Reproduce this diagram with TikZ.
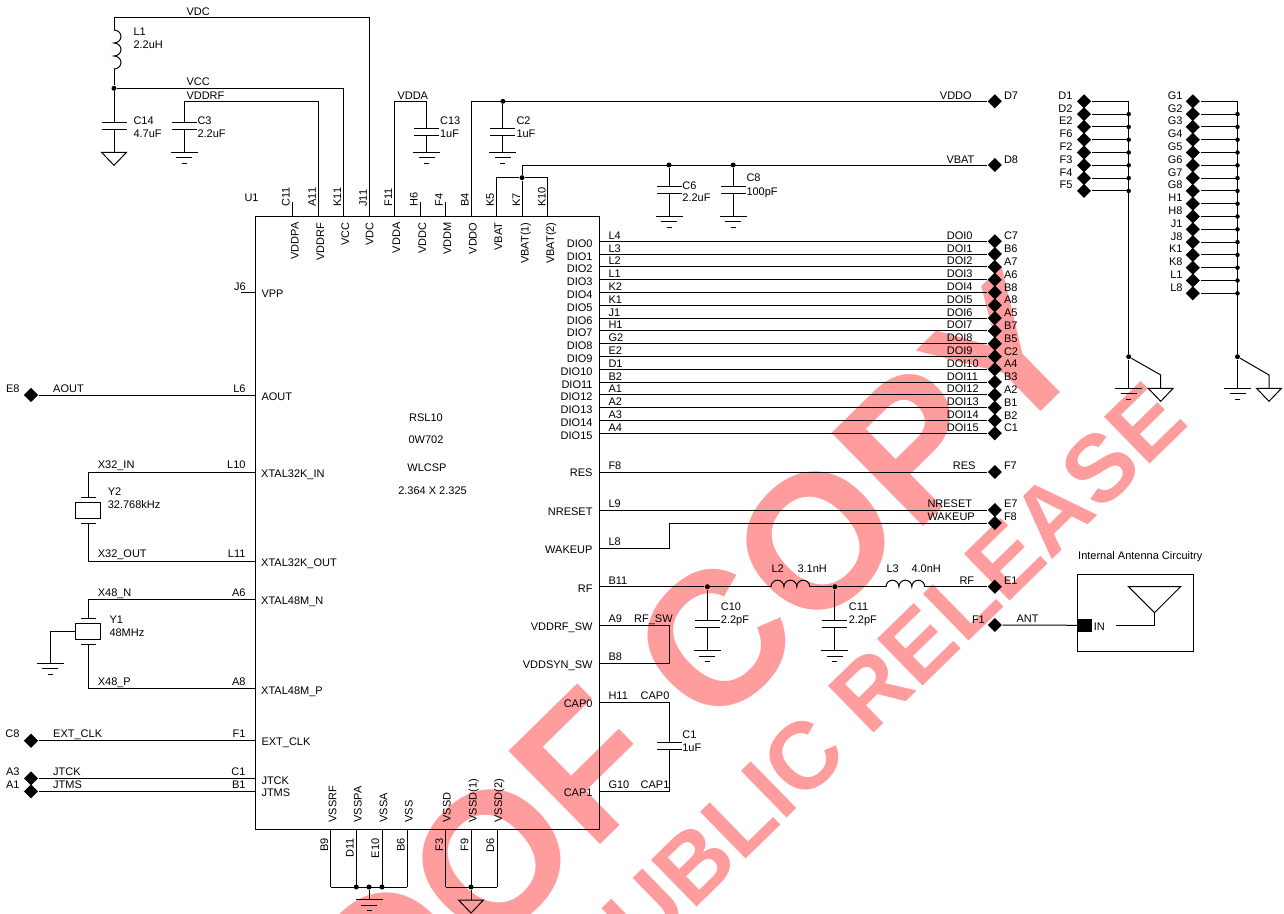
\documentclass[tikz,border=0pt]{standalone}
\usepackage{fontspec}
\setmainfont{Liberation Sans}
\usetikzlibrary{shapes.geometric}
\definecolor{stampred}{RGB}{255,156,158}
\tikzset{
  lbl/.style={anchor=west,inner sep=0pt,text height=8pt,text depth=0pt,font=\fontsize{11}{13}\selectfont},
  lblr/.style={lbl,anchor=east},
  lblc/.style={lbl,anchor=center},
  pinup/.style={lbl,rotate=90},
  pindn/.style={lbl,rotate=90,anchor=east},
  dotnode/.style={circle,fill=black,inner sep=0pt,minimum size=5pt},
  padnode/.style={diamond,fill=black,inner sep=0pt,minimum size=14.5pt},
  capnode/.style={inner sep=0pt,minimum width=24pt,minimum height=6pt,
    append after command={(\tikzlastnode.north west) edge (\tikzlastnode.north east)
      (\tikzlastnode.south west) edge (\tikzlastnode.south east)}},
  stamp/.style={text=stampred,inner sep=0pt,font=\bfseries\fontsize{#1}{#1}\selectfont},
  gndbars/.pic={
    \draw (-13.5,0)--(13.5,0);
    \draw (-8,5.5)--(8,5.5);
    \draw (-2.5,11)--(2.5,11);
  },
  gndtri/.pic={\draw (-12.5,0)--(12.5,0)--(0,13)--cycle;},
  coilh/.pic={
    \draw (0,0) arc[start angle=180,end angle=0,x radius=6.45pt,y radius=6.5pt]
      arc[start angle=180,end angle=0,x radius=6.45pt,y radius=6.5pt]
      arc[start angle=180,end angle=0,x radius=6.45pt,y radius=6.5pt];
  },
  coilv/.pic={
    \draw (0,0) arc[start angle=90,end angle=-90,x radius=7pt,y radius=6.5pt]
      arc[start angle=90,end angle=-90,x radius=7pt,y radius=6.5pt]
      arc[start angle=90,end angle=-90,x radius=7pt,y radius=6.5pt];
  },
}
\begin{document}
\begin{tikzpicture}[x=1pt,y=-1pt,line width=1pt]
  \useasboundingbox (0,0) rectangle (1284,913);
  \clip (0,0) rectangle (1284,913);
  % stamp behind the schematic
  \node[stamp=190,rotate=44.5] (stampa) at (598,755) {PROOF COPY};
  \node[stamp=95,rotate=44.3] (stampb) at (709,849) {NOT FOR PUBLIC RELEASE};
  % chip
  \node[draw,anchor=north west,inner sep=0pt,minimum width=344.3pt,minimum height=613.3pt] (chip) at (254.7,216) {};
  \node[lbl] (refU1) at (244,197) {U1};
  \node[lblc] (txta) at (426,417) {RSL10};
  \node[lblc] (txtb) at (426,439) {0W702};
  \node[lblc] (txtc) at (427,467) {WLCSP};
  \node[lblc] (txtd) at (432.5,490) {2.364 X 2.325};
  % top pins
  \foreach \n/\xa/\pin/\xb/\net in {a/285.7/C11/294.7/VDDPA,b/311.8/A11/320/VDDRF,c/337/K11/345/VCC,d/362.9/J11/369.4/VDC,
      e/388/F11/396/VDDA,f/413.5/H6/422/VDDC,g/438.8/F4/447/VDDM,h/464.5/B4/472.6/VDDO,
      i/489.8/K5/498/VBAT,j/516/K7/524.5/VBAT(1),k/541.6/K10/550/VBAT(2)}{
    \node[pinup] (tp\n) at (\xa,207) {\pin};
    \node[pindn] (tn\n) at (\xb,222) {\net};
  }
  \foreach \n/\xx in {a/292.6,f/420,g/445.7}{
    \coordinate (stub\n) at (\xx,216);
    \coordinate (stubend\n) at (\xx,202);
    \draw (stub\n)--(stubend\n);
  }
  % bottom pins
  \foreach \n/\xa/\pin/\xb/\net in {a/324/B9/332.3/VSSRF,b/349.7/D11/357.7/VSSPA,c/375/E10/383.3/VSSA,d/400.7/B6/408.7/VSS,
      e/439/F3/446.7/VSSD,f/464.3/F9/472.7/VSSD(1),g/490/D6/498/VSSD(2)}{
    \node[pindn] (bp\n) at (\xa,838) {\pin};
    \node[pinup] (bn\n) at (\xb,823) {\net};
  }
  \foreach \n/\xx in {a/330.7,b/356.3,c/382,d/407.3,e/445.7,f/471,g/497}{
    \coordinate (bot\n) at (\xx,829.3);
    \coordinate (bus\n) at (\xx,887);
    \draw (bot\n)--(bus\n);
  }
  \draw (busa)--(busd);
  \draw (buse)--(busg);
  \node[dotnode] (jbb) at (busb) {};
  \node[dotnode] (jbc) at (busc) {};
  \node[dotnode] (jbm) at (369,887) {};
  \node[dotnode] (jbf) at (busf) {};
  \coordinate (gbm) at (369,899.7);
  \coordinate (gbf) at (471,900);
  \draw (jbm)--(gbm);
  \draw (jbf)--(gbf);
  \pic at (gbm) {gndbars};
  \pic at (gbf) {gndtri};
  % VDC, VCC, VDDRF
  \coordinate (vdcpin) at (369.4,216);
  \coordinate (vdctop) at (114,17.3);
  \coordinate (coila) at (114,30);
  \coordinate (coilb) at (114,69);
  \draw (vdcpin) |- (vdctop)--(coila);
  \pic at (coila) {coilv};
  \node[dotnode] (jvcc) at (114,88.3) {};
  \draw (coilb)--(jvcc);
  \coordinate (vccpin) at (343.7,216);
  \draw (jvcc) -| (vccpin);
  \node[capnode] (C14) at (114,125.5) {};
  \coordinate (g14) at (114,152.3);
  \draw (jvcc)--(C14) (C14)--(g14);
  \pic at (g14) {gndtri};
  \coordinate (vrfpin) at (318.4,216);
  \coordinate (vrftop) at (184,101.3);
  \node[capnode] (C3) at (184,125.5) {};
  \coordinate (g3) at (184,152.3);
  \draw (vrfpin) |- (vrftop)--(C3) (C3)--(g3);
  \pic at (g3) {gndbars};
  \node[lbl] (nVDC) at (186,11) {VDC};
  \node[lbl] (nVCC) at (186,81.7) {VCC};
  \node[lbl] (nVRF) at (186,95) {VDDRF};
  \node[lbl] (rL1) at (133,31) {L1};
  \node[lbl] (vL1) at (133,44) {2.2uH};
  \node[lbl] (rC14) at (133,120.7) {C14};
  \node[lbl] (vC14) at (133,133) {4.7uF};
  \node[lbl] (rC3) at (197,120.7) {C3};
  \node[lbl] (vC3) at (197,133) {2.2uF};
  % VDDA
  \coordinate (vapin) at (394.7,216);
  \coordinate (vatop) at (426.5,101.3);
  \node[capnode] (C13) at (426.5,131.6) {};
  \coordinate (g13) at (426.5,152.3);
  \draw (vapin) |- (vatop)--(C13) (C13)--(g13);
  \pic at (g13) {gndbars};
  \node[lbl] (nVA) at (397,95) {VDDA};
  \node[lbl] (rC13) at (439.6,120.7) {C13};
  \node[lbl] (vC13) at (439.6,133) {1uF};
  % VDDO
  \coordinate (vopin) at (471,216);
  \node[padnode] (padD7) at (994.8,101.3) {};
  \draw (vopin) |- (padD7);
  \node[dotnode] (jvo) at (502.9,101.3) {};
  \node[capnode] (C2) at (502.9,131.6) {};
  \coordinate (g2) at (502.9,152.3);
  \draw (jvo)--(C2) (C2)--(g2);
  \pic at (g2) {gndbars};
  \node[lbl] (rC2) at (516,120.7) {C2};
  \node[lbl] (vC2) at (516,133) {1uF};
  \node[lbl] (nVO) at (939.4,95) {VDDO};
  \node[lbl] (pD7) at (1003.5,95) {D7};
  % VBAT
  \coordinate (vbpina) at (496.7,216);
  \coordinate (vbpinb) at (522,216);
  \coordinate (vbpinc) at (547.8,216);
  \node[dotnode] (jvb) at (522,177.7) {};
  \node[padnode] (padD8) at (994.8,165) {};
  \draw (vbpina) |- (jvb) -| (vbpinc);
  \draw (vbpinb)--(jvb);
  \draw (jvb) |- (padD8);
  \foreach \n/\xx/\rx/\yr/\yv/\val in {C6/669/681.9/185/197/2.2uF,C8/733.2/746/177.7/191/100pF}{
    \node[dotnode] (j\n) at (\xx,165) {};
    \node[capnode] (\n) at (\xx,190) {};
    \coordinate (g\n) at (\xx,216);
    \draw (j\n)--(\n) (\n)--(g\n);
    \pic at (g\n) {gndbars};
    \node[lbl] (r\n) at (\rx,\yr) {\n};
    \node[lbl] (v\n) at (\rx,\yv) {\val};
  }
  \node[lbl] (nVB) at (946,159) {VBAT};
  \node[lbl] (pD8) at (1003.5,159) {D8};
  % DIO bus
  \foreach \n/\pin/\pad in {0/L4/C7,1/L3/B6,2/L2/A7,3/L1/A6,4/K2/B8,5/K1/A8,6/J1/A5,7/H1/B7,
      8/G2/B5,9/E2/C2,10/D1/A4,11/B2/B3,12/A1/A2,13/A2/B1,14/A3/B2,15/A4/C1}{
    \pgfmathsetmacro{\yy}{241.3+12.8*\n}
    \coordinate (dio\n) at (599,\yy);
    \node[padnode] (dop\n) at (994.8,\yy) {};
    \draw (dio\n)--(dop\n);
    \node[lbl] (dpin\n) at (608,\yy-6) {\pin};
    \node[lblr] (dnam\n) at (593,\yy+2) {DIO\n};
    \node[lbl] (dnet\n) at (946.4,\yy-6) {DOI\n};
    \node[lbl] (dpad\n) at (1003.5,\yy-5.5) {\pad};
  }
  % RES, NRESET, WAKEUP
  \coordinate (respin) at (599,472);
  \node[padnode] (padF7) at (994.8,472) {};
  \draw (respin)--(padF7);
  \node[lbl] (pF8a) at (608,465) {F8};
  \node[lblr] (mRES) at (593,472.7) {RES};
  \node[lbl] (nRES) at (952.4,465) {RES};
  \node[lbl] (pF7) at (1003.5,465) {F7};
  \coordinate (nrpin) at (599,510);
  \node[padnode] (padE7) at (994.8,510) {};
  \draw (nrpin)--(padE7);
  \node[lbl] (pL9) at (608,503) {L9};
  \node[lblr] (mNR) at (593,511) {NRESET};
  \node[lbl] (nNR) at (927,503) {NRESET};
  \node[lbl] (pE7) at (1003.5,503) {E7};
  \coordinate (wkpin) at (599,548.3);
  \coordinate (wkbend) at (669.2,548.3);
  \node[padnode] (padF8) at (994.8,523) {};
  \draw (wkpin)--(wkbend) |- (padF8);
  \node[lbl] (pL8) at (608,541.7) {L8};
  \node[lblr] (mWK) at (593,549.3) {WAKEUP};
  \node[lbl] (nWK) at (927,516) {WAKEUP};
  \node[lbl] (pF8b) at (1003.5,516) {F8};
  % RF chain
  \coordinate (rfpin) at (599,586.7);
  \node[dotnode] (jC10) at (707.4,586.7) {};
  \coordinate (la) at (771,586.7);
  \coordinate (lb) at (809.7,586.7);
  \node[dotnode] (jC11) at (834.9,586.7) {};
  \coordinate (lc) at (886,586.7);
  \coordinate (ld) at (924.7,586.7);
  \node[padnode] (padE1) at (994.8,586.7) {};
  \draw (rfpin)--(jC10)--(la);
  \pic at (la) {coilh};
  \draw (lb)--(jC11)--(lc);
  \pic at (lc) {coilh};
  \draw (ld)--(padE1);
  \foreach \n/\xx/\rx in {C10/707.4/720.4,C11/834.9/848.3}{
    \node[capnode] (\n) at (\xx,624.3) {};
    \coordinate (g\n) at (\xx,650.7);
    \draw (j\n)--(\n) (\n)--(g\n);
    \pic at (g\n) {gndbars};
    \node[lbl] (r\n) at (\rx,606) {\n};
    \node[lbl] (v\n) at (\rx,619) {2.2pF};
  }
  \node[lbl] (pB11) at (608,580) {B11};
  \node[lblr] (mRF) at (593,588) {RF};
  \node[lbl] (rL2) at (771,568) {L2};
  \node[lbl] (vL2) at (797,568) {3.1nH};
  \node[lbl] (rL3) at (886,568) {L3};
  \node[lbl] (vL3) at (911,568) {4.0nH};
  \node[lbl] (nRF) at (959,580) {RF};
  \node[lbl] (pE1) at (1003.5,580) {E1};
  % RF switch
  \coordinate (swa) at (599,625);
  \coordinate (swb) at (599,663.7);
  \coordinate (swm) at (669.2,625);
  \draw (swa)--(swm) |- (swb);
  \node[lbl] (pA9) at (608,618.7) {A9};
  \node[lbl] (nSW) at (633.7,618) {RF\_SW};
  \node[lbl] (pB8) at (608,656.7) {B8};
  \node[lblr] (mSWa) at (593,626.7) {VDDRF\_SW};
  \node[lblr] (mSWb) at (593,664.7) {VDDSYN\_SW};
  % CAP0, CAP1
  \coordinate (capa) at (599,702);
  \coordinate (capb) at (599,791.3);
  \coordinate (capma) at (669.2,702);
  \coordinate (capmb) at (669.2,791.3);
  \node[capnode] (C1) at (669.2,746) {};
  \draw (capa)--(capma)--(C1) (C1)--(capmb)--(capb);
  \node[lbl] (rC1) at (681.8,734) {C1};
  \node[lbl] (vC1) at (681.8,747.3) {1uF};
  \node[lbl] (pH11) at (608,695.3) {H11};
  \node[lbl] (nCa) at (640.2,695.3) {CAP0};
  \node[lbl] (pG10) at (608,784.7) {G10};
  \node[lbl] (nCb) at (640.2,784.7) {CAP1};
  \node[lblr] (mCa) at (593,703.3) {CAP0};
  \node[lblr] (mCb) at (593,792.3) {CAP1};
  % antenna
  \node[padnode] (padF1) at (994.8,625) {};
  \node[draw,anchor=north west,inner sep=0pt,minimum width=115.3pt,minimum height=76.7pt] (antbox) at (1077.3,574) {};
  \node[fill=black,inner sep=0pt,minimum width=14.3pt,minimum height=13.3pt] (antin) at (1084.4,625.3) {};
  \draw (padF1)--(antin);
  \coordinate (antw) at (1116,625);
  \coordinate (antc) at (1154.5,625);
  \coordinate (anta) at (1154.5,612.7);
  \coordinate (antl) at (1128.5,586.7);
  \coordinate (antr) at (1180.5,586.7);
  \draw (antw)--(antc)--(anta);
  \draw (anta)--(antl)--(antr)--cycle;
  \node[lbl] (nIN) at (1093.3,626.7) {IN};
  \node[lbl] (pF1) at (971.5,619.3) {F1};
  \node[lbl] (nANT) at (1016,618.7) {ANT};
  \node[lbl] (tANT) at (1077.7,555.3) {Internal Antenna Circuitry};
  % ball groups
  \foreach \n/\pad [count=\i from 0] in {a/D1,b/D2,c/E2,d/F6,e/F2,f/F3,g/F4,h/F5}{
    \pgfmathsetmacro{\yy}{101.3+12.8*\i}
    \node[padnode] (gpa\n) at (1084,\yy) {};
    \coordinate (gra\n) at (1128.7,\yy);
    \draw (gpa\n)--(gra\n);
    \node[lblr] (gla\n) at (1073,\yy-6) {\pad};
    \ifnum\i>0 \node[dotnode,minimum size=4.5pt] (gja\n) at (gra\n) {}; \fi
  }
  \foreach \n/\pad [count=\i from 0] in {a/G1,b/G2,c/G3,d/G4,e/G5,f/G6,g/G7,h/G8,i/H1,j/H8,k/J1,l/J8,m/K1,n/K8,o/L1,p/L8}{
    \pgfmathsetmacro{\yy}{101.3+12.8*\i}
    \node[padnode] (gpb\n) at (1192.8,\yy) {};
    \coordinate (grb\n) at (1237.5,\yy);
    \draw (gpb\n)--(grb\n);
    \node[lblr] (glb\n) at (1183,\yy-6) {\pad};
    \ifnum\i>0 \node[dotnode,minimum size=4.5pt] (gjb\n) at (grb\n) {}; \fi
  }
  \foreach \n/\xx/\xd/\yt in {a/1128.7/1160.7/101.3,b/1237.5/1269/101.3}{
    \coordinate (rail\n) at (\xx,\yt);
    \node[dotnode] (jr\n) at (\xx,356.7) {};
    \coordinate (gr\n) at (\xx,388.3);
    \coordinate (dg\n) at (\xd,375);
    \coordinate (tr\n) at (\xd,388.3);
    \draw (rail\n)--(jr\n)--(gr\n);
    \draw (jr\n)--(dg\n)--(tr\n);
    \pic at (gr\n) {gndbars};
    \pic at (tr\n) {gndtri};
  }
  % left side
  \foreach \n/\yy/\pad/\net/\pin/\nam/\ym in {a/395/E8/AOUT/L6/AOUT/396,b/740.7/C8/EXT\_CLK/F1/EXT\_CLK/741.7,
      c/778.3/A3/JTCK/C1/JTCK/780,d/791.3/A1/JTMS/B1/JTMS/792}{
    \node[padnode] (lp\n) at (31,\yy) {};
    \coordinate (lc\n) at (254.7,\yy);
    \draw (lp\n)--(lc\n);
    \node[lblr] (lq\n) at (20,\yy-7) {\pad};
    \node[lbl] (ln\n) at (52.7,\yy-7) {\net};
    \node[lblr] (lr\n) at (246,\yy-7) {\pin};
    \node[lbl] (lm\n) at (261,\ym) {\nam};
  }
  \coordinate (vpp) at (254.7,292.7);
  \coordinate (vppe) at (241,292.7);
  \draw (vpp)--(vppe);
  \node[lbl] (pJ6) at (233.5,286) {J6};
  \node[lbl] (mVPP) at (261,293.7) {VPP};
  % crystals
  \foreach \n/\ya/\yb/\yc/\neta/\netb/\pina/\pinb/\nama/\namb in {
      b/472/510.3/561/X32\_IN/X32\_OUT/L10/L11/XTAL32K\_IN/XTAL32K\_OUT,
      c/599.7/631.7/688.7/X48\_N/X48\_P/A6/A8/XTAL48M\_N/XTAL48M\_P}{
    \coordinate (xa\n) at (254.7,\ya);
    \coordinate (xb\n) at (254.7,\yc);
    \coordinate (xl\n) at (88.3,\ya);
    \coordinate (xm\n) at (88.3,\yc);
    \node[draw,inner sep=0pt,minimum width=25.4pt,minimum height=16pt] (xb\n box) at (88,\yb) {};
    \node[inner sep=0pt,minimum width=13.4pt,minimum height=25.4pt,append after command={(\tikzlastnode.north west) edge (\tikzlastnode.north east)
      (\tikzlastnode.south west) edge (\tikzlastnode.south east)}] (xt\n) at (88.3,\yb) {};
    \draw (xa\n)--(xl\n)--(xt\n);
    \draw (xt\n)--(xm\n)--(xb\n);
    \node[lbl] (xna\n) at (97.3,\ya-7.7) {\neta};
    \node[lbl] (xnb\n) at (97.3,\yc-7.3) {\netb};
    \node[lblr] (xpa\n) at (246,\ya-7.5) {\pina};
    \node[lblr] (xpb\n) at (246,\yc-7.3) {\pinb};
    \node[lbl] (xma\n) at (260.7,\ya+1) {\nama};
    \node[lbl] (xmb\n) at (260.7,\yc+1.3) {\namb};
  }
  \node[lbl] (rY2) at (107.3,491.3) {Y2};
  \node[lbl] (vY2) at (107.3,504.7) {32.768kHz};
  \node[lbl] (rY1) at (109,619) {Y1};
  \node[lbl] (vY1) at (109,632.3) {48MHz};
  \coordinate (gY1) at (50,663);
  \draw (xbcbox.west) -| (gY1);
  \pic at (gY1) {gndbars};
\end{tikzpicture}
\end{document}
